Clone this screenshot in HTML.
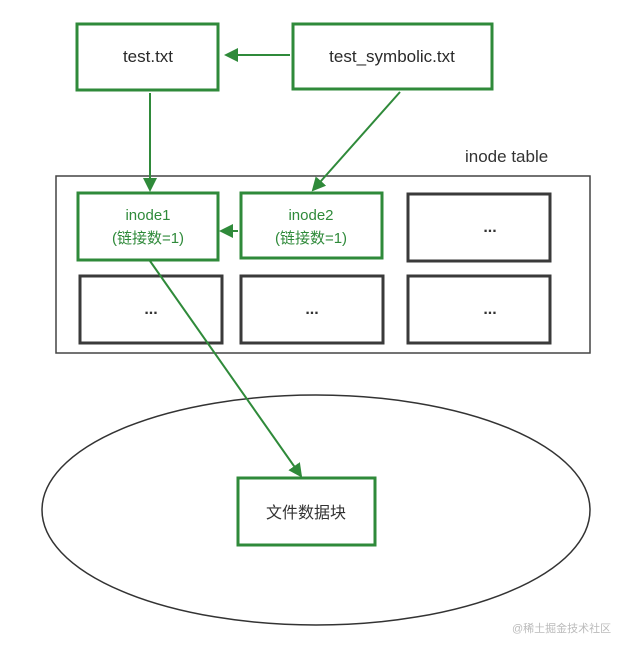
<!DOCTYPE html>
<html><head><meta charset="utf-8"><style>
body{margin:0;background:#fff;}
svg text{font-family:"Liberation Sans","Noto Sans CJK SC",sans-serif;}
</style></head><body>
<svg width="621" height="642" viewBox="0 0 621 642" xmlns="http://www.w3.org/2000/svg">
<defs><marker id="a" markerWidth="14" markerHeight="14" refX="12" refY="7" orient="auto" markerUnits="userSpaceOnUse"><path d="M0,0 L14,7 L0,14 z" fill="#2f8a3a"/></marker></defs>
<rect x="56" y="176" width="534" height="177" fill="none" stroke="#444" stroke-width="1.5"/>
<ellipse cx="316" cy="510" rx="274" ry="115" fill="none" stroke="#333" stroke-width="1.5"/>
<g fill="#fff" stroke="#2f8a3a" stroke-width="3">
<rect x="77" y="24" width="141" height="66"/>
<rect x="293" y="24" width="199" height="65"/>
<rect x="78" y="193" width="140" height="67"/>
<rect x="241" y="193" width="141" height="65"/>
<rect x="238" y="478" width="137" height="67"/>
</g>
<g fill="#fff" stroke="#3a3a3a" stroke-width="3">
<rect x="408" y="194" width="142" height="67"/>
<rect x="80" y="276" width="142" height="67"/>
<rect x="241" y="276" width="142" height="67"/>
<rect x="408" y="276" width="142" height="67"/>
</g>
<g stroke="#2f8a3a" stroke-width="2" fill="none" marker-end="url(#a)">
<line x1="290" y1="55" x2="226" y2="55"/>
<line x1="150" y1="93" x2="150" y2="190"/>
<line x1="400" y1="92" x2="313" y2="190"/>
<line x1="238" y1="231" x2="221" y2="231"/>
<line x1="150" y1="261" x2="301" y2="476"/>
</g>
<g font-size="17" fill="#2a2a2a" text-anchor="middle">
<text x="148" y="62">test.txt</text>
<text x="392" y="62">test_symbolic.txt</text>
</g>
<g font-size="15" fill="#2f8a3a" text-anchor="middle">
<text x="148" y="220">inode1</text>
<text x="148" y="243">(链接数=1)</text>
<text x="311" y="220">inode2</text>
<text x="311" y="243">(链接数=1)</text>
</g>
<g font-size="16" fill="#333" text-anchor="middle" font-weight="bold">
<text x="490" y="232">...</text>
<text x="151" y="314">...</text>
<text x="312" y="314">...</text>
<text x="490" y="314">...</text>
</g>
<text x="306" y="518" font-size="16" fill="#333" text-anchor="middle">文件数据块</text>
<text x="465" y="162" font-size="17" fill="#333">inode table</text>
<text x="512" y="632" font-size="11" fill="#bbb">@稀土掘金技术社区</text>
</svg>
</body></html>
